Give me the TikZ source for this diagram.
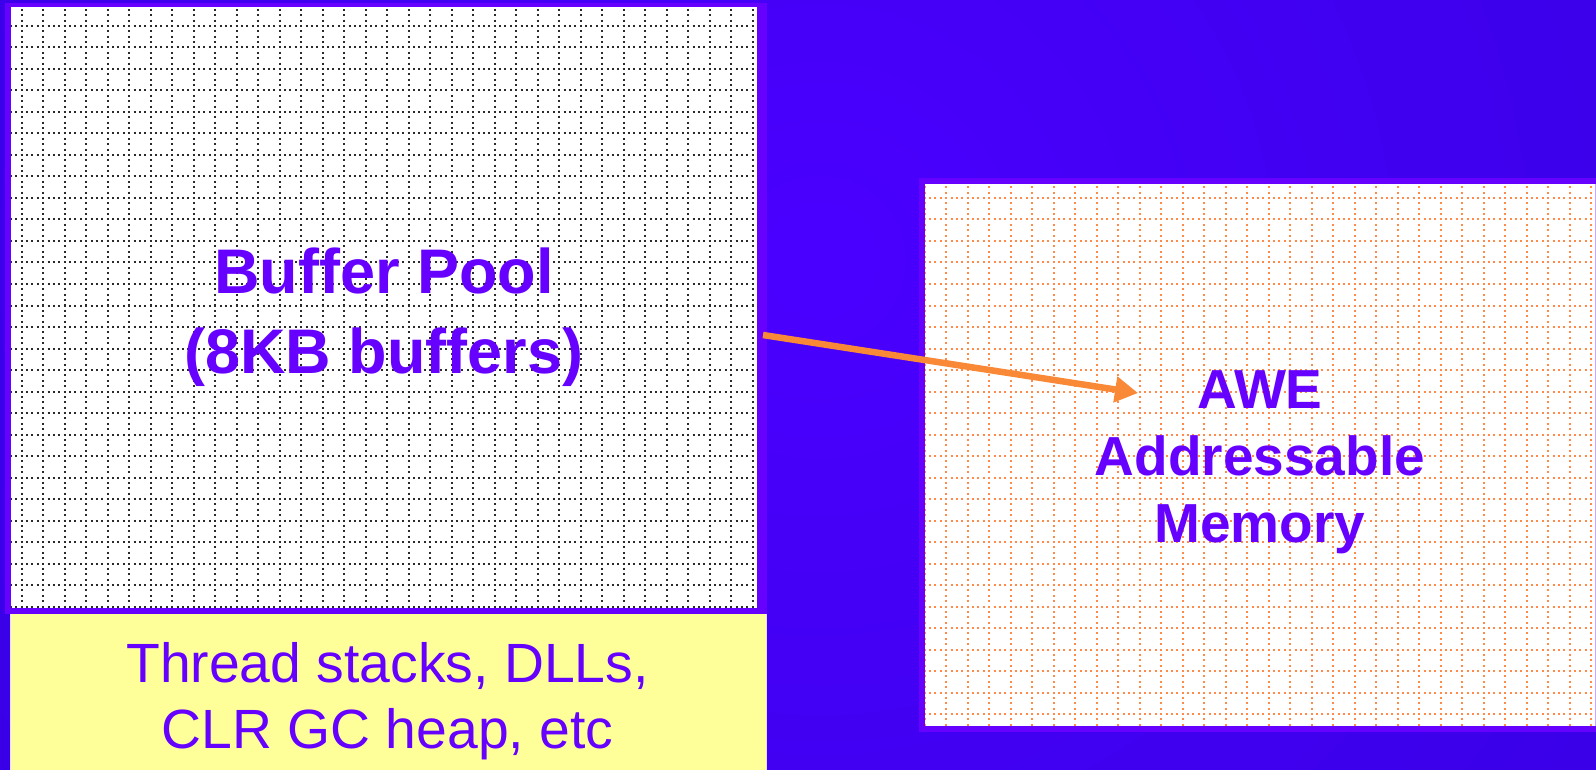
\documentclass[tikz,border=0pt]{standalone}
\usepackage{fontspec}
\setmainfont{Liberation Sans}
\usetikzlibrary{arrows.meta}
\definecolor{bgin}{HTML}{4A00FF}
\definecolor{bgout}{HTML}{2C00D4}
\definecolor{pborder}{HTML}{6600FF}
\definecolor{ptext}{HTML}{6600FF}
\definecolor{ylw}{HTML}{FFFF99}
\definecolor{arrowc}{HTML}{F98837}
\definecolor{dotgray}{HTML}{2A2A2A}
\definecolor{dotorange}{HTML}{FF8A4A}
\tikzset{
  leftgrid/.style={dotgray, line width=2pt, dash pattern=on 2pt off 3.375pt, dash phase=1pt},
  rightgrid/.style={dotorange, line width=2pt, dash pattern=on 2pt off 3.375pt, dash phase=1pt},
  bigbold/.style={anchor=base, inner sep=0pt, text=ptext, font=\fontsize{63}{76}\selectfont\bfseries},
  awebold/.style={anchor=base, inner sep=0pt, text=ptext, font=\fontsize{55}{66}\selectfont\bfseries},
  plaintext/.style={anchor=base, inner sep=0pt, text=ptext, font=\fontsize{55.3}{66}\selectfont},
  flowarrow/.style={arrowc, line width=6.5pt, -{Triangle[length=23pt,width=25pt]}}
}
\begin{document}
\begin{tikzpicture}[x=1pt,y=-1pt]
\useasboundingbox (0,0) rectangle (1596,770);
\begin{scope}
\clip (0,0) rectangle (1596,770);
% background
\shade[inner color=bgin, outer color=bgout] (820,260) circle (1700);
% yellow box
\fill[ylw, draw=pborder!15!white, line width=1.4pt] (10.7,612) rectangle (766.3,790);
% left box
\fill[pborder] (5,2.7) rectangle (767,614);
\fill[white] (11,7.3) rectangle (757,608);
\begin{scope}
\clip (11,7.3) rectangle (757,608);
\foreach \k in {0,...,34} \draw[leftgrid] ({21.7+21.5*\k},-0.875) -- ++(0,620);
\foreach \k in {0,...,27} \draw[leftgrid] (-5.175,{26+21.5*\k}) -- ++(780,0);
\end{scope}
% right box
\fill[pborder] (919,178) rectangle (1601,732);
\fill[white] (925,184) rectangle (1595,726);
\begin{scope}
\clip (925,184) rectangle (1595,726);
\foreach \k in {42,...,73} \draw[rightgrid] ({21.7+21.5*\k},176.5) -- ++(0,570);
\foreach \k in {8,...,32} \draw[rightgrid] (903.2,{26+21.5*\k}) -- ++(700,0);
\end{scope}
\fill[pborder!35!white] (1595,184) rectangle (1596,726);
% arrow
\coordinate (a1) at (763,335);
\coordinate (a2) at (1138,393);
\draw[flowarrow] (a1) -- (a2);
% texts
\node[bigbold] (bp1) at (384,293) {Buffer Pool};
\node[bigbold] (bp2) at (384,373) {(8KB buffers)};
\node[awebold] (awe1) at (1260,408) {AWE};
\node[awebold] (awe2) at (1260,475) {Addressable};
\node[awebold] (awe3) at (1260,542) {Memory};
\node[plaintext] (th1) at (387.5,682) {Thread stacks, DLLs,};
\node[plaintext] (th2) at (387.5,748) {CLR GC heap, etc};
\end{scope}
\end{tikzpicture}
\end{document}
